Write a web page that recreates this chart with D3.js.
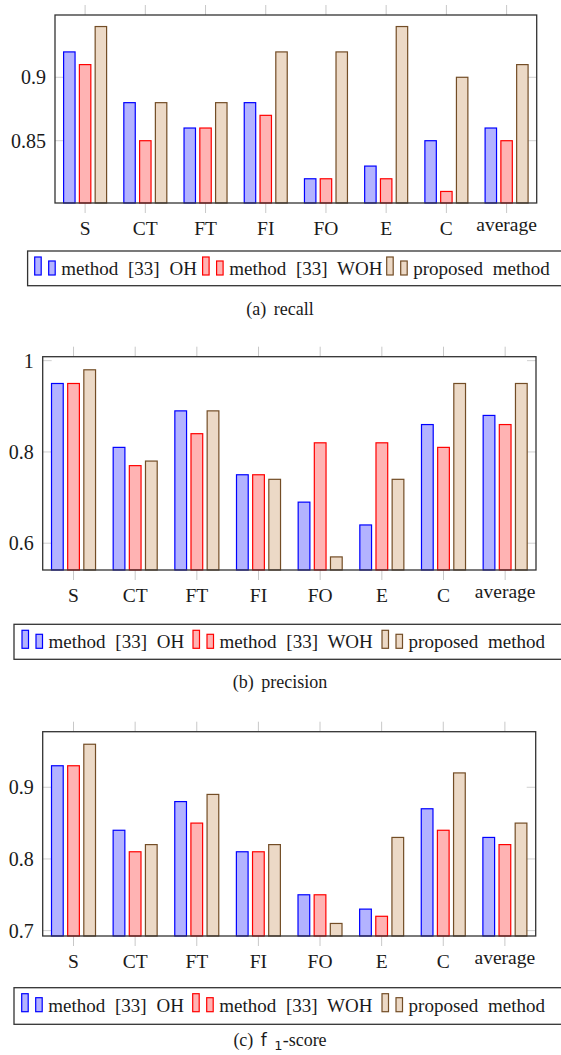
<!DOCTYPE html>
<html>
<head>
<meta charset="utf-8">
<script src="https://cdn.jsdelivr.net/npm/d3@7"></script>
<style>
  html, body { margin: 0; padding: 0; background: #fff; }
  svg { display: block; }
  text { font-family: "Liberation Serif", "Times New Roman", serif; fill: #1a1a1a; }
</style>
</head>
<body>
<svg id="chart" width="561" height="1055"></svg>
<script>
// ---------- data ----------
const categories = ["S", "CT", "FT", "FI", "FO", "E", "C", "average"];
const seriesNames = ["method [33] OH", "method [33] WOH", "proposed method"];

const recallOH       = [0.92, 0.88, 0.86, 0.88, 0.82, 0.83, 0.85, 0.86];
const recallWOH      = [0.91, 0.85, 0.86, 0.87, 0.82, 0.82, 0.81, 0.85];
const recallProposed = [0.94, 0.88, 0.88, 0.92, 0.92, 0.94, 0.90, 0.91];

const precisionOH       = [0.95, 0.81, 0.89, 0.75, 0.69, 0.64, 0.86, 0.88];
const precisionWOH      = [0.95, 0.77, 0.84, 0.75, 0.82, 0.82, 0.81, 0.86];
const precisionProposed = [0.98, 0.78, 0.89, 0.74, 0.57, 0.74, 0.95, 0.95];

const f1OH       = [0.93, 0.84, 0.88, 0.81, 0.75, 0.73, 0.87, 0.83];
const f1WOH      = [0.93, 0.81, 0.85, 0.81, 0.75, 0.72, 0.84, 0.82];
const f1Proposed = [0.96, 0.82, 0.89, 0.82, 0.71, 0.83, 0.92, 0.85];

const recallTicks = [0.85, 0.9];
const recallTickLabels = ["0.85", "0.9"];
const precisionTicks = [0.6, 0.8, 1];
const precisionTickLabels = ["0.6", "0.8", "1"];
const f1Ticks = [0.7, 0.8, 0.9];
const f1TickLabels = ["0.7", "0.8", "0.9"];

// ---------- styles ----------
const strokeColors = ["#0000ff", "#ff0000", "#734d26"];
const fillColors   = ["#b3b3ff", "#ffb3b3", "#ecd9c6"];

const panels = [
  { series: [recallOH, recallWOH, recallProposed], ticks: recallTicks, tickLabels: recallTickLabels,
    frame: { left: 55, top: 15, right: 536.7, bottom: 203 },
    legend: { left: 27.6, top: 251, bottom: 285.7, items: [34.7, 202.6, 386.7] },
    caption: { y: 315, parts: [["(a) recall", "serif"]] } },
  { series: [precisionOH, precisionWOH, precisionProposed], ticks: precisionTicks, tickLabels: precisionTickLabels,
    frame: { left: 42.7, top: 356.7, right: 536, bottom: 570 },
    legend: { left: 14, top: 624.3, bottom: 659.3, items: [22, 193, 382] },
    caption: { y: 688, parts: [["(b) precision", "serif"]] } },
  { series: [f1OH, f1WOH, f1Proposed], ticks: f1Ticks, tickLabels: f1TickLabels,
    frame: { left: 42.7, top: 731.7, right: 535.7, bottom: 936 },
    legend: { left: 14, top: 987.7, bottom: 1024.3, items: [21.7, 192.7, 382] },
    caption: { y: 1046, parts: [["(c) ", "serif"], ["f", "sans"], [" ", "serif"], ["1", "sans-sub"], ["-score", "serif"]] } }
];

const svg = d3.select("#chart");

panels.forEach(p => {
  const f = p.frame;
  const all = p.series.flat();
  const lo = d3.min(all), hi = d3.max(all);
  const pad = (hi - lo) * 0.07;
  const y = d3.scaleLinear().domain([lo - pad, hi + pad]).range([f.bottom, f.top]);
  const x = d3.scalePoint().domain(categories).range([f.left, f.right]).padding(0.5);
  const step = x.step();
  const barW = step * 0.19;
  const shift = step * 0.262;

  const g = svg.append("g");

  // x ticks (outside top and bottom)
  g.selectAll("line.xt-top").data(categories).join("line")
    .attr("x1", d => x(d)).attr("x2", d => x(d))
    .attr("y1", f.top - 10).attr("y2", f.top)
    .attr("stroke", "#c8c8c8").attr("stroke-width", 1);
  g.selectAll("line.xt-bot").data(categories).join("line")
    .attr("x1", d => x(d)).attr("x2", d => x(d))
    .attr("y1", f.bottom).attr("y2", f.bottom + 10)
    .attr("stroke", "#c8c8c8").attr("stroke-width", 1);

  // y ticks (inside left and right)
  p.ticks.forEach(t => {
    g.append("line").attr("x1", f.left).attr("x2", f.left + 9)
      .attr("y1", y(t)).attr("y2", y(t)).attr("stroke", "#d0d0d0").attr("stroke-width", 1);
    g.append("line").attr("x1", f.right - 9).attr("x2", f.right)
      .attr("y1", y(t)).attr("y2", y(t)).attr("stroke", "#d0d0d0").attr("stroke-width", 1);
  });

  // bars
  p.series.forEach((vals, si) => {
    g.selectAll(null).data(vals).join("rect")
      .attr("x", (d, i) => x(categories[i]) + (si - 1) * shift - barW / 2)
      .attr("y", d => y(d))
      .attr("width", barW)
      .attr("height", d => f.bottom - y(d))
      .attr("fill", fillColors[si])
      .attr("stroke", strokeColors[si])
      .attr("stroke-width", 1.2);
  });

  // frame
  g.append("rect").attr("x", f.left).attr("y", f.top)
    .attr("width", f.right - f.left).attr("height", f.bottom - f.top)
    .attr("fill", "none").attr("stroke", "#333").attr("stroke-width", 1.3);

  // y tick labels
  p.ticks.forEach((t, i) => {
    g.append("text").attr("x", f.left - 9).attr("y", y(t) + 7)
      .attr("text-anchor", "end").attr("font-size", 20)
      .text(p.tickLabels[i]);
  });

  // x labels
  g.selectAll("text.xl").data(categories).join("text")
    .attr("x", d => x(d))
    .attr("y", d => f.bottom + 32 - (/[A-Z]/.test(d) ? 0 : 4.5))
    .attr("text-anchor", "middle").attr("font-size", 19.5)
    .text(d => d);

  // legend
  const L = p.legend;
  g.append("rect").attr("x", L.left).attr("y", L.top)
    .attr("width", 600).attr("height", L.bottom - L.top)
    .attr("fill", "#fff").attr("stroke", "#333").attr("stroke-width", 1.3);
  seriesNames.forEach((name, si) => {
    const ix = L.items[si];
    const base = L.top + 24;
    g.append("rect").attr("x", ix).attr("y", base - 18).attr("width", 6.5).attr("height", 18)
      .attr("fill", fillColors[si]).attr("stroke", strokeColors[si]).attr("stroke-width", 1.2);
    g.append("rect").attr("x", ix + 14).attr("y", base - 14).attr("width", 6.5).attr("height", 14)
      .attr("fill", fillColors[si]).attr("stroke", strokeColors[si]).attr("stroke-width", 1.2);
    g.append("text").attr("x", ix + 26.6).attr("y", base)
      .attr("font-size", 19).attr("word-spacing", "5px")
      .text(name);
  });

  // caption
  const cap = g.append("text").attr("x", 280).attr("y", p.caption.y)
    .attr("text-anchor", "middle").attr("font-size", 18).attr("word-spacing", "3px");
  p.caption.parts.forEach(([txt, kind]) => {
    const ts = cap.append("tspan").text(txt);
    if (kind === "sans") ts.style("font-family", "'DejaVu Sans', sans-serif").attr("font-size", 17);
    if (kind === "sans-sub") ts.style("font-family", "'DejaVu Sans', sans-serif").attr("font-size", 13).attr("dy", 4);
    if (kind === "serif" && txt === "-score") ts.attr("dy", -4);
  });
});
</script>
</body>
</html>
